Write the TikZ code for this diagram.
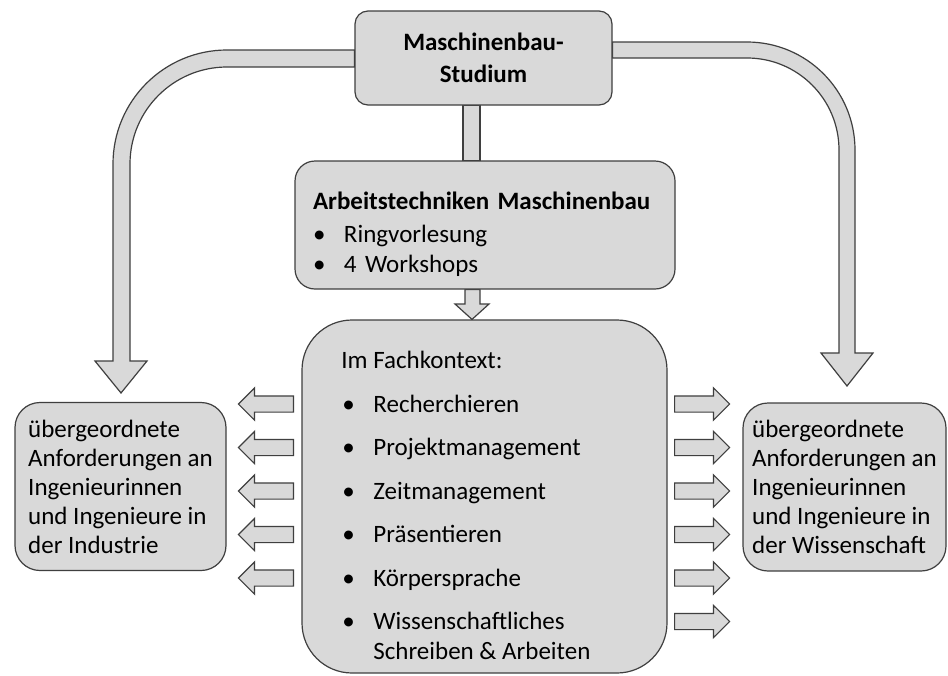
\documentclass[tikz,border=0pt]{standalone}
\usepackage{fontspec}
\setmainfont{Carlito}
\usetikzlibrary{shapes.arrows, backgrounds}

\definecolor{boxfill}{HTML}{D9D9D9}
\definecolor{boxline}{HTML}{3F3F3F}
\newcommand{\bodyfont}{\fontsize{12.5pt}{15pt}\selectfont}
\newcommand{\sidefont}{\fontsize{12.5pt}{14.5pt}\selectfont}
\newcommand{\bul}{\makebox[15.5pt][l]{\textbullet}}

\begin{document}
\begin{tikzpicture}[x=0.5pt, y=-0.5pt,
  topbox/.style={rectangle, draw=boxline, fill=boxfill, line width=0.6pt,
                 rounded corners=6.5pt, minimum width=128.5pt, minimum height=47pt,
                 align=center, font=\bodyfont\bfseries},
  midbox/.style={rectangle, draw=boxline, fill=boxfill, line width=0.6pt,
                 rounded corners=10pt, minimum width=190pt, minimum height=64pt,
                 text width=172pt, inner xsep=9pt, align=left, font=\bodyfont},
  bigbox/.style={rectangle, draw=boxline, fill=boxfill, line width=0.6pt,
                 rounded corners=25pt, minimum width=182.5pt, minimum height=176.5pt},
  sidebox/.style={rectangle, draw=boxline, fill=boxfill, line width=0.6pt,
                  rounded corners=12.5pt, minimum height=84pt,
                  align=left, font=\sidefont},
  punkt/.style={anchor=base west, inner sep=0pt, font=\bodyfont},
  larr/.style={single arrow, shape border rotate=180, draw=boxline, fill=boxfill,
               line width=0.6pt, minimum height=27.5pt, text height=7.5pt,
               text depth=0pt, inner sep=0pt, single arrow head extend=4pt,
               anchor=tail},
  rarr/.style={larr, shape border rotate=0},
  blk/.style={draw=boxline, fill=boxfill, line width=0.6pt}
]

%% ---- Boxes ----
\node[topbox] (studium) at (483.5, 58) {Maschinenbau-\\[1pt]Studium};

\node[midbox] (arbeit) at (485, 225)
  {\rule{0pt}{18pt}\textbf{Arbeitstechniken Maschinenbau}\\[1.5pt]
   \bul Ringvorlesung\\
   \bul 4 Workshops};

\node[bigbox] (fach) at (484.5, 496.5) {};

\node[sidebox, minimum width=105.5pt] (industrie) at (120.5, 486.5)
  {übergeordnete\\Anforderungen an\\Ingenieurinnen\\und Ingenieure in\\der Industrie};
\node[sidebox, minimum width=101.5pt] (wissen) at (844.5, 487)
  {übergeordnete\\Anforderungen an\\Ingenieurinnen\\und Ingenieure in\\der Wissenschaft};

%% ---- Text in the context box ----
\node[punkt] (kopf) at (341, 368) {Im Fachkontext:};
\node[punkt] (rech) at (342, 412) {\bul Recherchieren};
\node[punkt] (proj) at (342, 455.5) {\bul Projektmanagement};
\node[punkt] (zeit) at (342, 499) {\bul Zeitmanagement};
\node[punkt] (praes) at (342, 542.5) {\bul Präsentieren};
\node[punkt] (koerp) at (342, 586) {\bul Körpersprache};
\node[punkt] (wiss) at (342, 629.5) {\bul Wissenschaftliches};
\node[punkt] (schr) at (373, 659.5) {Schreiben \& Arbeiten};

%% ---- Small arrows, left ----
\node[larr] (l1) at (294, 404) {};
\node[larr] (l2) at (294, 447.5) {};
\node[larr] (l3) at (294, 491) {};
\node[larr] (l4) at (294, 534.5) {};
\node[larr] (l5) at (294, 578) {};

%% ---- Small arrows, right ----
\node[rarr] (r1) at (674, 404) {};
\node[rarr] (r2) at (674, 447.5) {};
\node[rarr] (r3) at (674, 491) {};
\node[rarr] (r4) at (674, 534.5) {};
\node[rarr] (r5) at (674, 578) {};
\node[rarr] (r6) at (674, 621.5) {};

%% ---- Block arrows (behind the boxes) ----
\begin{scope}[on background layer]
  \path[use as bounding box, fill=white] (0,0) rectangle (948,675);

  % Studium -> Industrie
  \draw[blk] (studium.west |- 0,50) -- (227,50)
    arc[start angle=270, end angle=180, radius=114] -- (113,361)
    -- (95,361) -- (121,393) -- (147,361) -- (130,361) -- (130,164)
    arc[start angle=180, end angle=270, radius=97] -- (studium.west |- 0,67) -- cycle;

  % Studium -> Wissenschaft
  \draw[blk] (studium.east |- 0,42) -- (747,42)
    arc[start angle=270, end angle=360, radius=108] -- (855,353)
    -- (873,353) -- (847,386) -- (821,353) -- (839,353) -- (839,150)
    arc[start angle=0, end angle=-90, radius=92] -- (studium.east |- 0,58) -- cycle;

  % Studium -> Arbeitstechniken
  \draw[blk] (studium.south -| 463,0) rectangle (arbeit.north -| 480,0);

  % Arbeitstechniken -> Fachkontext
  \draw[blk] (arbeit.south -| 465,0) -- (465,304) -- (455,304) -- (fach.north -| 472,0)
    -- (489,304) -- (480,304) -- (arbeit.south -| 480,0) -- cycle;
\end{scope}

\end{tikzpicture}
\end{document}
